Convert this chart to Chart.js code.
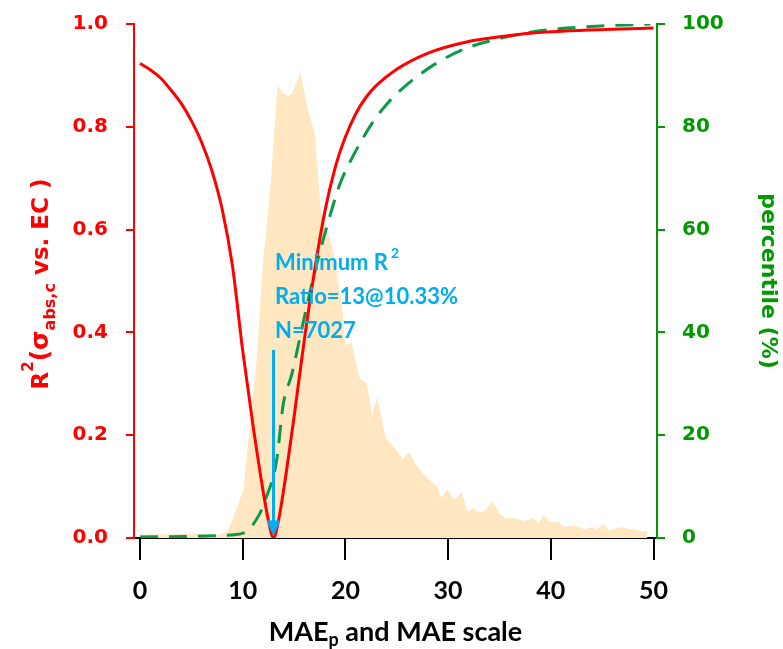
<!DOCTYPE html>
<html>
<head>
<meta charset="utf-8">
<script src="https://cdn.jsdelivr.net/npm/chart.js@4/dist/chart.umd.min.js"></script>
<style>
html,body{margin:0;padding:0;background:#fff;}
canvas{display:block;}
</style>
</head>
<body>
<canvas id="c" width="783" height="649"></canvas>
<script>
// ---- data ----
const xTicks = [0, 10, 20, 30, 40, 50];
const r2Ticks = [0, 0.2, 0.4, 0.6, 0.8, 1.0];
const pctTicks = [0, 20, 40, 60, 80, 100];

// R² curve (left axis)
const r2X = [0, 1, 2, 3, 4, 5, 6, 7, 8, 9, 10, 11, 12, 12.5, 13, 13.5, 14, 15, 16, 17, 18, 19, 20, 21, 22, 23, 25, 28, 32, 35, 38, 42, 46, 50];
const r2Y = [0.923, 0.911, 0.895, 0.872, 0.846, 0.812, 0.77, 0.715, 0.64, 0.53, 0.365, 0.22, 0.09, 0.035, 0.0, 0.035, 0.095, 0.235, 0.385, 0.52, 0.635, 0.72, 0.78, 0.825, 0.857, 0.88, 0.912, 0.943, 0.966, 0.975, 0.982, 0.987, 0.99, 0.992];

// cumulative percentile (right axis)
const pctX = [0, 5, 8, 10.1, 11.6, 12.2, 13.3, 13.95, 14.8, 15.9, 16.8, 18.2, 19.5, 20.8, 22.7, 23.86, 25.3, 28.56, 31.8, 35.05, 38.3, 41.5, 44.8, 49.7];
const pctY = [0.2, 0.3, 0.5, 1, 4.5, 7.4, 15, 26, 32, 42, 50, 60.6, 69, 74.5, 81, 84, 87, 92, 95.3, 97.2, 98.5, 99.2, 99.6, 100];

// histogram of MAE scale (relative frequency, shaded area)
const histX = [0, 2, 4, 6, 7.3, 8.0, 8.5, 9.1, 9.8, 10.06, 10.7, 11.36, 12.0, 12.66, 13.4, 14.0, 14.4, 14.8, 15.6, 16.4, 17.0, 17.6, 18.8, 19.6, 20.0, 20.6, 21.4, 22.1, 22.6, 23.1, 23.9, 25.0, 25.6, 26.2, 27.0, 28.2, 28.9, 29.4, 29.9, 30.6, 31.3, 31.9, 32.4, 33.1, 33.6, 34.3, 35.1, 35.7, 36.3, 37.5, 38.2, 38.8, 39.3, 39.9, 40.7, 41.4, 42.1, 42.6, 43.3, 43.9, 44.5, 45.1, 45.7, 46.4, 47.0, 47.7, 48.2, 48.9, 49.4];
const histY = [0.7, 0.7, 0.8, 0.9, 0.4, 0.9, 1.2, 4, 8, 9, 21.7, 34.6, 54, 67, 88, 86.5, 86, 86.5, 90.5, 83, 79, 64, 56, 46.3, 37.5, 38, 31, 30, 24, 27.5, 19.6, 17, 15.3, 16.7, 13.8, 11.3, 10, 7.8, 9.5, 7.4, 8.9, 5, 5.8, 5, 5.3, 7.2, 4.5, 3.9, 3.9, 3.3, 3.9, 2.9, 4.5, 3.1, 3.1, 2.1, 2.5, 2.3, 1.6, 2.1, 1.7, 2.7, 1.4, 1.9, 2.1, 1.7, 1.7, 1.2, 1.4];

// annotation
const minRatio = 13;          // x of minimum R²
const arrowTopR2 = 0.366;     // arrow start (R² units)
const arrowTipR2 = 0.003;
const annLines = ["Minimum R", "Ratio=13@10.33%", "N=7027"];
const annBaseR2 = [0.521, 0.455, 0.389];
const annX = 13.15;

const RED = '#ff0000', GREEN = '#009900', DASH_GREEN = '#0a9a4a', BLUE = '#00aeef', FILL = 'rgb(254,231,193)';
const zip = (xs, ys) => xs.map((x, i) => ({x, y: ys[i]}));
const noPad = s => { s.paddingTop = 0; s.paddingBottom = 0; s.paddingLeft = 0; s.paddingRight = 0; };

const decor = {
  id: 'decor',
  afterDatasetsDraw(chart) {
    const {ctx, scales} = chart;
    const xs = scales.x, ys = scales.y;
    ctx.save();
    // annotation text
    ctx.fillStyle = BLUE;
    ctx.textBaseline = 'alphabetic';
    ctx.textAlign = 'left';
    annLines.forEach((t, i) => {
      const px = xs.getPixelForValue(annX), py = ys.getPixelForValue(annBaseR2[i]);
      ctx.font = 'bold 22px Lato';
      ctx.fillText(t, px, py);
      if (i === 0) {
        const w = ctx.measureText(t).width;
        ctx.font = 'bold 14px Lato';
        ctx.fillText('2', px + w + 3, py - 12);
      }
    });
    // arrow
    const ax = xs.getPixelForValue(minRatio);
    const y0 = ys.getPixelForValue(arrowTopR2), y1 = ys.getPixelForValue(arrowTipR2);
    ctx.strokeStyle = BLUE; ctx.fillStyle = BLUE; ctx.lineWidth = 3;
    ctx.beginPath(); ctx.moveTo(ax, y0); ctx.lineTo(ax, y1 - 14); ctx.stroke();
    ctx.beginPath(); ctx.moveTo(ax - 7, y1 - 16); ctx.lineTo(ax + 7, y1 - 16); ctx.lineTo(ax, y1); ctx.closePath(); ctx.fill();
    ctx.restore();
  },
  afterDraw(chart) {
    const {ctx, chartArea} = chart;
    ctx.save();
    // x title with subscript
    const cx = (chartArea.left + chartArea.right) / 2, by = 641;
    const big = 'bold 27px Lato', small = 'bold 18px Lato';
    ctx.fillStyle = '#000';
    ctx.font = big; const w1 = ctx.measureText('MAE').width;
    ctx.font = small; const w2 = ctx.measureText('p').width;
    ctx.font = big; const w3 = ctx.measureText(' and MAE scale').width;
    let x = cx - (w1 + w2 + w3) / 2;
    ctx.textAlign = 'left'; ctx.textBaseline = 'alphabetic';
    ctx.font = big; ctx.fillText('MAE', x, by); x += w1;
    ctx.font = small; ctx.fillText('p', x, by + 5); x += w2;
    ctx.font = big; ctx.fillText(' and MAE scale', x, by);

    // left title rotated
    const parts = [
      {t: 'R', f: 'bold 23px "DejaVu Sans"', dy: 0},
      {t: '2', f: 'bold 15px "DejaVu Sans"', dy: -15},
      {t: '(', f: 'bold 25px "DejaVu Sans"', dy: 0},
      {t: 'σ', f: 'bold 25px "DejaVu Sans"', dy: 0},
      {t: 'abs,c', f: 'bold 16px "DejaVu Sans"', dy: 7},
      {t: ' vs. EC )', f: 'bold 23px "DejaVu Sans"', dy: 0}
    ];
    let tot = 0;
    parts.forEach(p => { ctx.font = p.f; p.w = ctx.measureText(p.t).width; tot += p.w; });
    ctx.translate(48, 284);
    ctx.rotate(-Math.PI / 2);
    ctx.fillStyle = RED;
    let px = -tot / 2;
    parts.forEach(p => { ctx.font = p.f; ctx.fillText(p.t, px, p.dy); px += p.w; });
    ctx.setTransform(1, 0, 0, 1, 0, 0);

    // right title rotated
    ctx.translate(768, 281);
    ctx.rotate(Math.PI / 2);
    ctx.fillStyle = GREEN;
    ctx.font = 'bold 22px "DejaVu Sans"';
    ctx.textAlign = 'center'; ctx.textBaseline = 'middle';
    ctx.fillText('percentile (%)', 0, 0);
    ctx.restore();
  }
};

new Chart(document.getElementById('c'), {
  type: 'line',
  data: {
    datasets: [
      {label: 'R2', data: zip(r2X, r2Y), yAxisID: 'y', borderColor: RED, borderWidth: 3, pointRadius: 0, fill: false, cubicInterpolationMode: 'monotone', order: 1},
      {label: 'percentile', data: zip(pctX, pctY), yAxisID: 'y1', borderColor: DASH_GREEN, borderWidth: 3, borderDash: [18, 11], pointRadius: 0, fill: false, cubicInterpolationMode: 'monotone', order: 2},
      {label: 'hist', data: zip(histX, histY), yAxisID: 'yh', borderWidth: 0, borderColor: FILL, backgroundColor: FILL, pointRadius: 0, fill: 'origin', tension: 0, order: 3}
    ]
  },
  options: {
    responsive: false,
    animation: false,
    layout: {padding: {top: 24, left: 0, right: 0, bottom: 0}},
    plugins: {legend: {display: false}, tooltip: {enabled: false}},
    scales: {
      x: {
        type: 'linear', position: 'bottom', min: -0.58, max: 50.34,
        afterBuildTicks: s => { s.ticks = xTicks.map(v => ({value: v})); },
        afterFit: s => { s.height = 649 - 538; noPad(s); },
        grid: {drawOnChartArea: false, color: '#000', lineWidth: 2, tickLength: 22},
        border: {color: '#000', width: 2},
        ticks: {color: '#000', font: {family: 'Lato', weight: 'bold', size: 25}, padding: 16, maxRotation: 0, autoSkip: false}
      },
      y: {
        position: 'left', min: 0, max: 1,
        afterBuildTicks: s => { s.ticks = r2Ticks.map(v => ({value: v})); },
        afterFit: s => { s.width = 134; noPad(s); },
        grid: {drawOnChartArea: false, color: RED, lineWidth: 2, tickLength: 8},
        border: {color: RED, width: 2},
        ticks: {color: RED, font: {family: 'DejaVu Sans', weight: 'bold', size: 20}, padding: 18, callback: v => v.toFixed(1)}
      },
      y1: {
        position: 'right', min: 0, max: 100,
        afterBuildTicks: s => { s.ticks = pctTicks.map(v => ({value: v})); },
        afterFit: s => { s.width = 783 - 657; noPad(s); },
        grid: {drawOnChartArea: false, color: GREEN, lineWidth: 2, tickLength: 8},
        border: {color: GREEN, width: 2},
        ticks: {color: GREEN, font: {family: 'DejaVu Sans', weight: 'bold', size: 20}, padding: 17}
      },
      yh: {display: false, min: 0, max: 100}
    }
  },
  plugins: [decor]
});
</script>
</body>
</html>
